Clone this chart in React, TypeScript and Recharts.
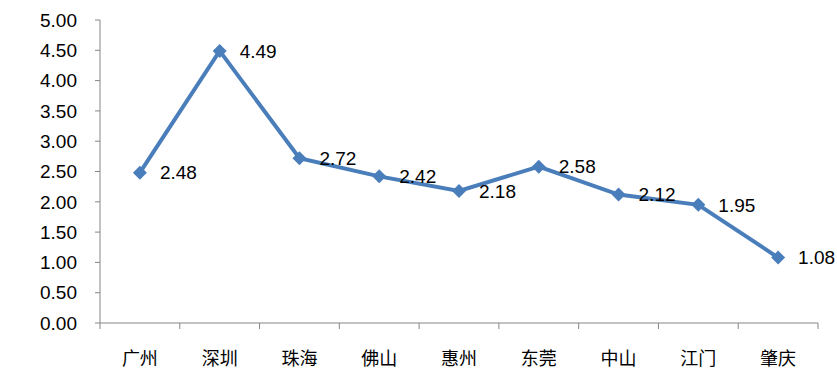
import { LineChart, Line, XAxis, YAxis, LabelList } from "recharts";

const CITIES = ["广州", "深圳", "珠海", "佛山", "惠州", "东莞", "中山", "江门", "肇庆"];
const VALUES = [2.48, 4.49, 2.72, 2.42, 2.18, 2.58, 2.12, 1.95, 1.08];
const Y_TICKS = [0, 0.5, 1, 1.5, 2, 2.5, 3, 3.5, 4, 4.5, 5];

const AXIS_COLOR = "#868686";
const LINE_COLOR = "#4A7EBB";
const NUM_FONT = "'Liberation Sans', Arial, sans-serif";
const CJK_FONT = "'Noto Sans CJK SC', sans-serif";

const data = CITIES.map((name, i) => ({ idx: i, name, value: VALUES[i] }));

// 分类标签在整数位置，刻度线在类别之间（半格位置）
const X_TICKS: number[] = [];
for (let i = 0; i <= CITIES.length * 2; i++) X_TICKS.push(i / 2 - 0.5);

function CategoryTick(props: any) {
  const { x, y, payload } = props;
  const v = payload.value;
  if (Number.isInteger(v)) {
    return (
      <text
        x={x}
        y={y + 28}
        textAnchor="middle"
        dominantBaseline="central"
        fontSize={18}
        fontFamily={CJK_FONT}
        fill="#000"
      >
        {CITIES[v]}
      </text>
    );
  }
  return <line x1={x} x2={x} y1={y - 6} y2={y} stroke={AXIS_COLOR} strokeWidth={1} />;
}

function Diamond(props: any) {
  const { cx, cy } = props;
  const r = 7;
  return (
    <polygon
      points={`${cx},${cy - r} ${cx + r},${cy} ${cx},${cy + r} ${cx - r},${cy}`}
      fill={LINE_COLOR}
    />
  );
}

export default function App() {
  return (
    <div style={{ position: "absolute", left: 0, top: 0, background: "#fff" }}>
      <LineChart
        width={837}
        height={382}
        data={data}
        margin={{ top: 20, right: 19, left: 0, bottom: 0 }}
      >
        <XAxis
          dataKey="idx"
          type="number"
          domain={[-0.5, CITIES.length - 0.5]}
          ticks={X_TICKS}
          interval={0}
          height={59}
          tickSize={6}
          tickMargin={0}
          tickLine={false}
          axisLine={{ stroke: AXIS_COLOR }}
          tick={<CategoryTick />}
        />
        <YAxis
          type="number"
          domain={[0, 5]}
          ticks={Y_TICKS}
          interval={0}
          width={100}
          tickSize={5}
          tickMargin={18}
          tickFormatter={(v: number) => v.toFixed(2)}
          axisLine={{ stroke: AXIS_COLOR }}
          tickLine={{ stroke: AXIS_COLOR }}
          tick={{ fontSize: 19, fontFamily: NUM_FONT, fill: "#000" }}
        />
        <Line
          dataKey="value"
          stroke={LINE_COLOR}
          strokeWidth={4}
          dot={<Diamond />}
          activeDot={false}
          isAnimationActive={false}
        >
          <LabelList
            dataKey="value"
            position="right"
            offset={20}
            formatter={(v: any) => Number(v).toFixed(2)}
            style={{ fontSize: 19, fontFamily: NUM_FONT, fill: "#000" }}
          />
        </Line>
      </LineChart>
    </div>
  );
}
